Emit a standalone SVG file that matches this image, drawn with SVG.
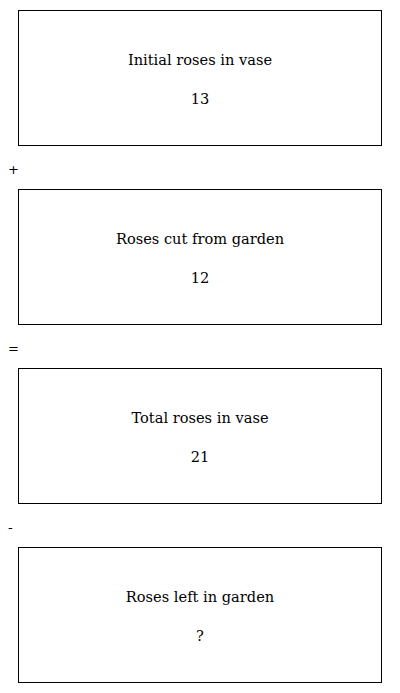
<svg xmlns="http://www.w3.org/2000/svg" width="400" height="693" viewBox="0 0 400 693">
<style>
.box{fill:#fff;stroke:#000;stroke-width:1}
.t{font-family:"DejaVu Serif",serif;font-size:14.6px;text-anchor:middle;fill:#000}
.op{font-family:"DejaVu Sans",sans-serif;font-size:13px;fill:#000}
</style>
<rect width="400" height="693" fill="#fff"/>
<g id="node1"><rect class="box" x="18.5" y="10.5" width="363" height="135"/><text class="t" x="200" y="65">Initial roses in vase</text><text class="t" x="200" y="104">13</text></g>
<g id="op1"><text class="op" x="8" y="174">+</text></g>
<g id="node2"><rect class="box" x="18.5" y="189.5" width="363" height="135"/><text class="t" x="200" y="244">Roses cut from garden</text><text class="t" x="200" y="283">12</text></g>
<g id="op2"><text class="op" x="8" y="353">=</text></g>
<g id="node3"><rect class="box" x="18.5" y="368.5" width="363" height="135"/><text class="t" x="200" y="423">Total roses in vase</text><text class="t" x="200" y="462">21</text></g>
<g id="op3"><text class="op" x="8" y="532">-</text></g>
<g id="node4"><rect class="box" x="18.5" y="547.5" width="363" height="135"/><text class="t" x="200" y="602">Roses left in garden</text><text class="t" x="200" y="641">?</text></g>
<g id="connectors"></g>
</svg>
